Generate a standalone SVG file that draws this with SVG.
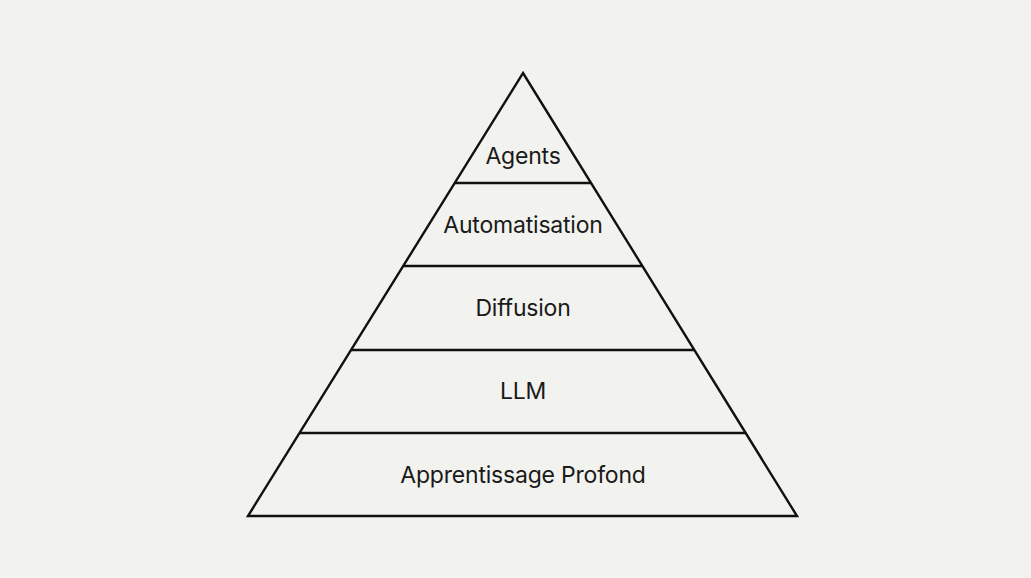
<svg xmlns="http://www.w3.org/2000/svg" width="1031" height="578" viewBox="0 0 1031 578">
<style>
.ln{stroke:#111;stroke-width:2.4;fill:none;stroke-linejoin:miter}
.lbl{font-family:Inter,"Noto Sans",sans-serif;font-size:23px;fill:#1a1a1a;text-anchor:middle;letter-spacing:-0.2px}
</style>
<rect width="1031" height="578" fill="#f2f2ee"/>
<g id="connectors">
<polygon class="ln" points="523,73 797,516 248,516"/>
<line class="ln" x1="455" y1="183" x2="591" y2="183"/>
<line class="ln" x1="403" y1="266" x2="643" y2="266"/>
<line class="ln" x1="351" y1="350" x2="695" y2="350"/>
<line class="ln" x1="300" y1="433" x2="746" y2="433"/>
</g>
<g id="agents"><text class="lbl" x="523" y="164">Agents</text></g>
<g id="automatisation"><text class="lbl" x="523" y="233">Automatisation</text></g>
<g id="diffusion"><text class="lbl" x="523" y="316">Diffusion</text></g>
<g id="llm"><text class="lbl" x="523" y="399">LLM</text></g>
<g id="apprentissage"><text class="lbl" x="523" y="483">Apprentissage Profond</text></g>
</svg>
